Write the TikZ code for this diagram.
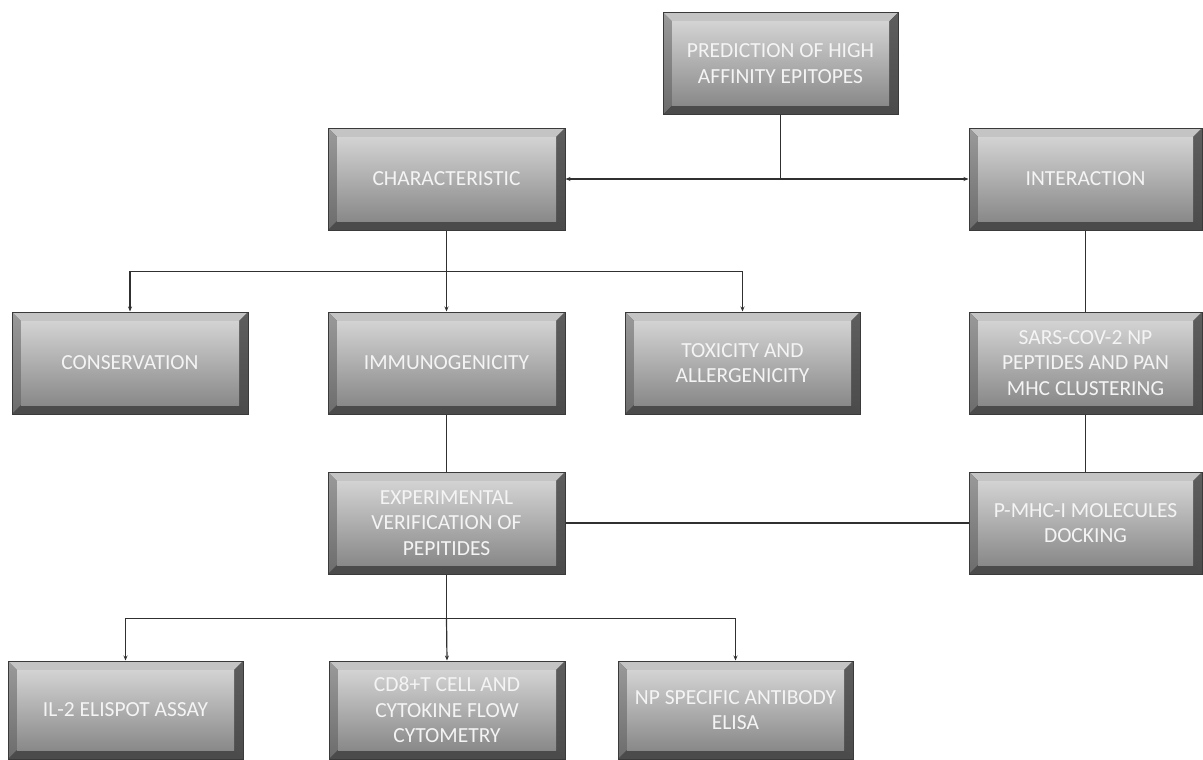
\documentclass[tikz,border=0pt]{standalone}
\usepackage{fontspec}
\setmainfont{Carlito}
\usepackage{tikz}
\usetikzlibrary{calc,arrows.meta}

\definecolor{edgegray}{HTML}{3A3A3A}
\definecolor{facetop}{HTML}{D3D3D3}
\definecolor{facebot}{HTML}{898989}
\definecolor{beveltop}{HTML}{C4C4C4}
\definecolor{bevelleft}{HTML}{9A9A9A}
\definecolor{bevelright}{HTML}{5E5E5E}
\definecolor{bevelbot}{HTML}{4B4B4B}
\definecolor{linkgray}{HTML}{303030}
\definecolor{labelwhite}{HTML}{F4F4F4}

\begin{document}
\begin{tikzpicture}[x=1pt,y=-1pt,
  box/.style={rectangle,draw=edgegray,line width=1pt,fill=bevelbot,inner sep=0pt,
    minimum width=235pt,minimum height=102pt,align=center,text=labelwhite,
    font=\fontsize{21.5}{25.5}\selectfont,
    path picture={
      \coordinate (nw) at (path picture bounding box.north west);
      \coordinate (ne) at (path picture bounding box.north east);
      \coordinate (sw) at (path picture bounding box.south west);
      \coordinate (se) at (path picture bounding box.south east);
      \coordinate (inw) at ($(nw)+(9pt,-9pt)$);
      \coordinate (ine) at ($(ne)+(-9pt,-9pt)$);
      \coordinate (isw) at ($(sw)+(9pt,9pt)$);
      \coordinate (ise) at ($(se)+(-9pt,9pt)$);
      \fill[beveltop] (nw)--(ne)--(ine)--(inw)--cycle;
      \shade[top color=bevelleft,bottom color=bevelleft!70!black] (nw)--(inw)--(isw)--(sw)--cycle;
      \shade[top color=bevelright,bottom color=bevelbot] (ne)--(ine)--(ise)--(se)--cycle;
      \fill[bevelbot] (sw)--(isw)--(ise)--(se)--cycle;
      \shade[top color=facetop,bottom color=facebot] (inw) rectangle (ise);
    }},
  link/.style={draw=linkgray,line width=1.2pt},
  arrow/.style={link,-{Stealth[length=5pt,width=4pt]}}]
\useasboundingbox (0,0) rectangle (1203,760);

% Top
\node (pred) at (780.5,63.5) [box] {PREDICTION OF HIGH\\AFFINITY EPITOPES};
\node (char) at (446.5,179) [box,minimum width=237pt] {CHARACTERISTIC};
\node (inter) at (1085.5,179) [box,minimum width=233pt] {INTERACTION};
\coordinate (predj) at (pred.south |- char.east);
\draw[link] (pred.south) -- (predj);
\draw[arrow] (predj) -- (char.east);
\draw[arrow] (predj) -- (inter.west);

% Characteristic branches
\node (cons) at (130,363) [box,minimum width=236pt] {CONSERVATION};
\node (immuno) at (446.5,363) [box,minimum width=237pt] {IMMUNOGENICITY};
\node (toxic) at (742.5,363) [box] {TOXICITY AND\\ALLERGENICITY};
\coordinate (charj) at ($(char.south)+(0,41)$);
\draw[link] (char.south) -- (charj);
\draw[arrow] (charj) -| (cons.north);
\draw[arrow] (charj) -- (immuno.north);
\draw[arrow] (charj) -| (toxic.north);

% Interaction branch
\node (sars) at (1085.5,363) [box,minimum width=233pt] {SARS-COV-2 NP\\PEPTIDES AND PAN\\MHC CLUSTERING};
\node (pmhc) at (1085.5,523) [box,minimum width=233pt] {P-MHC-I MOLECULES\\DOCKING};
\draw[link] (inter.south) -- (sars.north);
\draw[link] (sars.south) -- (pmhc.north);

% Experimental verification
\node (exp) at (446.5,523) [box,minimum width=237pt] {EXPERIMENTAL\\VERIFICATION OF\\PEPITIDES};
\draw[link] (immuno.south) -- (exp.north);
\draw[link] (exp.east) -- (pmhc.west);

% Assays
\node (il2) at (125.5,710) [box,minimum height=98pt] {IL-2 ELISPOT ASSAY};
\node (cd8) at (447,710) [box,minimum width=236pt,minimum height=98pt] {CD8+T CELL AND\\CYTOKINE FLOW\\CYTOMETRY};
\node (np) at (735.5,710) [box,minimum height=98pt] {NP SPECIFIC ANTIBODY\\ELISA};
\coordinate (expj) at ($(exp.south)+(0,44)$);
\draw[link] (exp.south) -- (expj);
\draw[arrow] (expj) -| (il2.north);
\draw[arrow] (expj) -- (cd8.north);
\draw[arrow] (expj) -| (np.north);
\end{tikzpicture}
\end{document}
